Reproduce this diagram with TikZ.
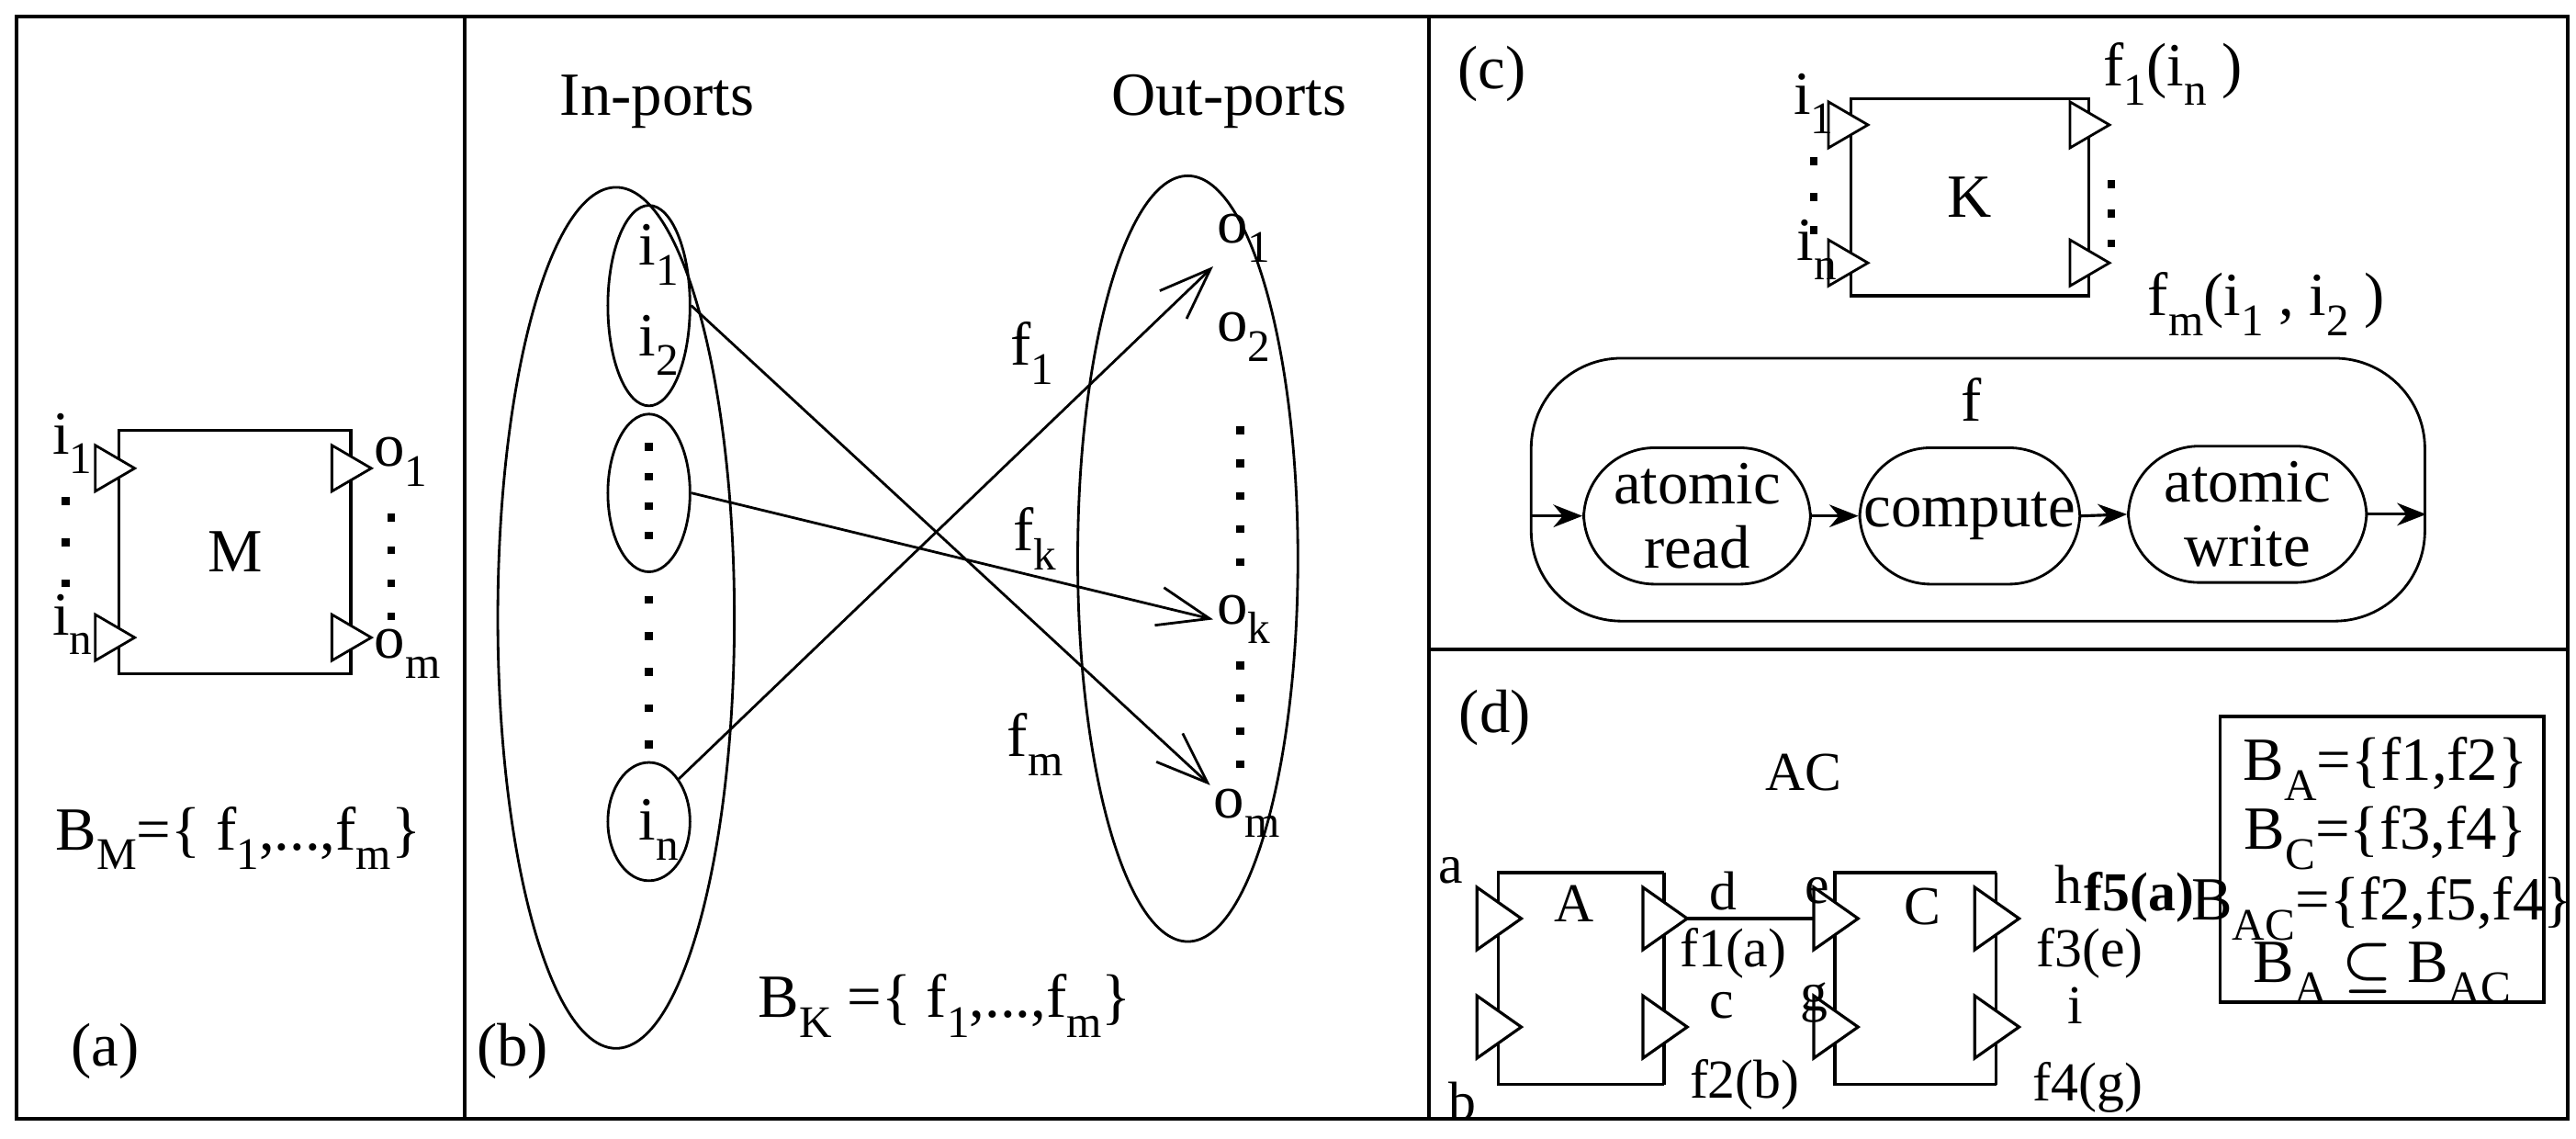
\documentclass[tikz,border=0pt]{standalone}
\usepackage{amsmath,amssymb}
\usepackage{fontspec}
\setmainfont{Liberation Serif}
\usetikzlibrary{arrows.meta,shapes.geometric}
\newcommand\lsub[1]{\raisebox{-0.7ex}{\fontsize{14}{14}\selectfont #1}}
\begin{document}
\begin{tikzpicture}[x=0.01789cm,y=-0.01789cm,
  every node/.style={font=\fontsize{19}{22}\selectfont, inner sep=1pt},
  dtext/.style={font=\fontsize{17}{20}\selectfont},
  frame/.style={line width=1.1pt},
  box/.style={draw, line width=0.9pt},
  dot/.style={fill, inner sep=0pt, minimum size=2.4pt},
  barb/.style={-{Straight Barb[length=16pt,width=12pt]}, line width=0.8pt},
  flow/.style={-{Stealth[length=9pt,width=7pt]}, line width=0.9pt},
  rbox/.style={draw, line width=0.8pt, rounded corners=22pt},
  pics/port/.style={code={\draw[line width=0.8pt, fill=white] (-12,-14) -- (12,0) -- (-12,14) -- cycle;}},
  pics/bport/.style={code={\draw[line width=0.9pt, fill=white] (-13,-19) -- (14,0) -- (-13,19) -- cycle;}}]
\useasboundingbox (0,0) rectangle (1568,693);
% frames
\draw[frame] (10,10) rectangle (1563,681);
\draw[frame] (283,10) -- (283,681);
\draw[frame] (870,10) -- (870,681);
\draw[frame] (870,395) -- (1563,395);

% ---------- (a)
\node[box, minimum width=141*0.01789cm, minimum height=148*0.01789cm] (M) at (143,336) {M};
\pic at (70,285) {port}; \pic at (70,388) {port};
\pic at (214,285) {port}; \pic at (214,388) {port};
\node (ai1) at (44,270) {i\lsub{1}};
\node (ain) at (44,380) {i\lsub{n}};
\node (ao1) at (244,281) {o\lsub{1}};
\node (aom) at (248,398) {o\lsub{m}};
\foreach \y [count=\k] in {305,330,355} \node[dot] (ad\k) at (40,\y) {};
\foreach \y [count=\k] in {315,335,355,375} \node[dot] (ae\k) at (238,\y) {};
\node (BM) at (145,510) {B\lsub{M}=\{ f\lsub{1},...,f\lsub{m}\}};
\node (la) at (64,640) {(a)};

% ---------- (b)
\node (inp) at (400,62) {In-ports};
\node (outp) at (748,62) {Out-ports};
\draw[line width=0.8pt] (375,376) ellipse (72 and 262);
\draw[line width=0.8pt] (723,340) ellipse (67 and 233);
\node[draw, ellipse, line width=0.8pt, minimum width=50*0.01789cm, minimum height=122*0.01789cm] (e12) at (395,186) {};
\node[draw, ellipse, line width=0.8pt, minimum width=50*0.01789cm, minimum height=96*0.01789cm] (emid) at (395,300) {};
\node[draw, ellipse, line width=0.8pt, minimum width=50*0.01789cm, minimum height=72*0.01789cm] (en) at (395,500) {};
\node (bi1) at (401,155) {i\lsub{1}};
\node (bi2) at (401,210) {i\lsub{2}};
\node (bin) at (401,505) {i\lsub{n}};
\foreach \y [count=\k] in {272,290,308,326} \node[dot] (bd\k) at (395,\y) {};
\foreach \y [count=\k] in {365,387,409,431,453} \node[dot] (be\k) at (395,\y) {};
\node (bo1) at (757,145) {o\lsub{1}};
\node (bo2) at (757,205) {o\lsub{2}};
\node (bok) at (757,377) {o\lsub{k}};
\node (bom) at (759,495) {o\lsub{m}};
\foreach \y [count=\k] in {262,282,302,322,342} \node[dot] (bf\k) at (755,\y) {};
\foreach \y [count=\k] in {405,425,445,465} \node[dot] (bg\k) at (755,\y) {};
\draw[barb] (en.north east) -- (bo1.south west);
\draw[barb] (emid.east) -- (bok.west);
\draw[barb] (e12.east) -- (bom.north west);
\node (f1) at (628,215) {f\lsub{1}};
\node (fk) at (630,328) {f\lsub{k}};
\node (fm) at (630,453) {f\lsub{m}};
\node (BK) at (575,612) {B\lsub{K} =\{ f\lsub{1},...,f\lsub{m}\}};
\node (lb) at (312,640) {(b)};

% ---------- (c)
\node (lc) at (908,45) {(c)};
\node[box, minimum width=145*0.01789cm, minimum height=120*0.01789cm] (K) at (1199,120) {K};
\pic at (1125,76) {port}; \pic at (1125,160) {port};
\pic at (1272,76) {port}; \pic at (1272,160) {port};
\node (ci1) at (1104,63) {i\lsub{1}};
\node (cin) at (1106,152) {i\lsub{n}};
\foreach \y [count=\k] in {98,120,140} \node[dot] (cd\k) at (1104,\y) {};
\foreach \y [count=\k] in {112,130,148} \node[dot] (ce\k) at (1285,\y) {};
\node[anchor=west] (cf1) at (1278,45) {f\lsub{1}(i\lsub{n} )};
\node[anchor=west] (cfm) at (1305,185) {f\lsub{m}(i\lsub{1} , i\lsub{2} )};
\node[rbox, minimum width=544*0.01789cm, minimum height=160*0.01789cm, rounded corners=28pt] (F) at (1204,298) {};
\node (cf) at (1200,243) {f};
\node[rbox, align=center, minimum width=138*0.01789cm, minimum height=83*0.01789cm, text width=120*0.01789cm] (ar) at (1033,314) {atomic\\[-2pt]read};
\node[rbox, align=center, minimum width=134*0.01789cm, minimum height=83*0.01789cm] (cp) at (1199,314) {compute};
\node[rbox, align=center, minimum width=145*0.01789cm, minimum height=83*0.01789cm, text width=125*0.01789cm] (aw) at (1368,313) {atomic\\[-2pt]write};
\draw[flow] (F.west |- ar.west) -- (ar.west);
\draw[flow] (ar.east) -- (cp.west);
\draw[flow] (cp.east) -- (aw.west);
\draw[flow] (aw.east) -- (F.east |- aw.east);

% ---------- (d)
\node (ld) at (910,437) {(d)};
\node[dtext] (AC) at (1098,470) {AC};
\draw[line width=1pt] (1013,531) -- (912,531) -- (912,660) -- (1013,660);
\draw[line width=1pt] (1013,531) -- (1013,660);
\draw[line width=1pt] (1215,531) -- (1117,531) -- (1117,660) -- (1215,660);
\draw[line width=1pt] (1215,531) -- (1215,660);
\node[dtext] (dA) at (958,550) {A};
\node[dtext] (dC) at (1170,552) {C};
\pic at (912,559) {bport}; \pic at (912,625) {bport};
\pic at (1013,559) {bport}; \pic at (1013,625) {bport};
\pic at (1117,559) {bport}; \pic at (1117,625) {bport};
\pic at (1215,559) {bport}; \pic at (1215,625) {bport};
\coordinate (dout) at (1027,559);
\coordinate (ein) at (1104,559);
\draw[line width=1pt] (dout) -- (ein);
\node[dtext] (na) at (883,530) {a};
\node[dtext] (nb) at (890,670) {b};
\node[dtext] (nd) at (1049,542) {d};
\node[dtext] (nf1) at (1055,580) {f1(a)};
\node[dtext] (nc) at (1048,612) {c};
\node[dtext] (nf2) at (1062,660) {f2(b)};
\node[dtext] (ne) at (1106,542) {e};
\node[dtext] (ng) at (1104,610) {g};
\node[dtext] (nh) at (1259,538) {h};
\node[dtext] (nf5) at (1302,546) {\textbf{f5(a)}};
\node[dtext] (nf3) at (1272,580) {f3(e)};
\node[dtext] (ni) at (1263,612) {i};
\node[dtext] (nf4) at (1271,662) {f4(g)};
\node[draw, line width=1pt, minimum width=197*0.01789cm, minimum height=174*0.01789cm] (BB) at (1450,523) {};
\node (b1) at (1452,468) {B\lsub{A}=\{f1,f2\}};
\node (b2) at (1452,510) {B\lsub{C}=\{f3,f4\}};
\node (b3) at (1450,553) {B\lsub{AC}=\{f2,f5,f4\}};
\node (b4) at (1450,592) {B\lsub{A} {\boldmath$\subseteq$} B\lsub{AC}};
\end{tikzpicture}
\end{document}
